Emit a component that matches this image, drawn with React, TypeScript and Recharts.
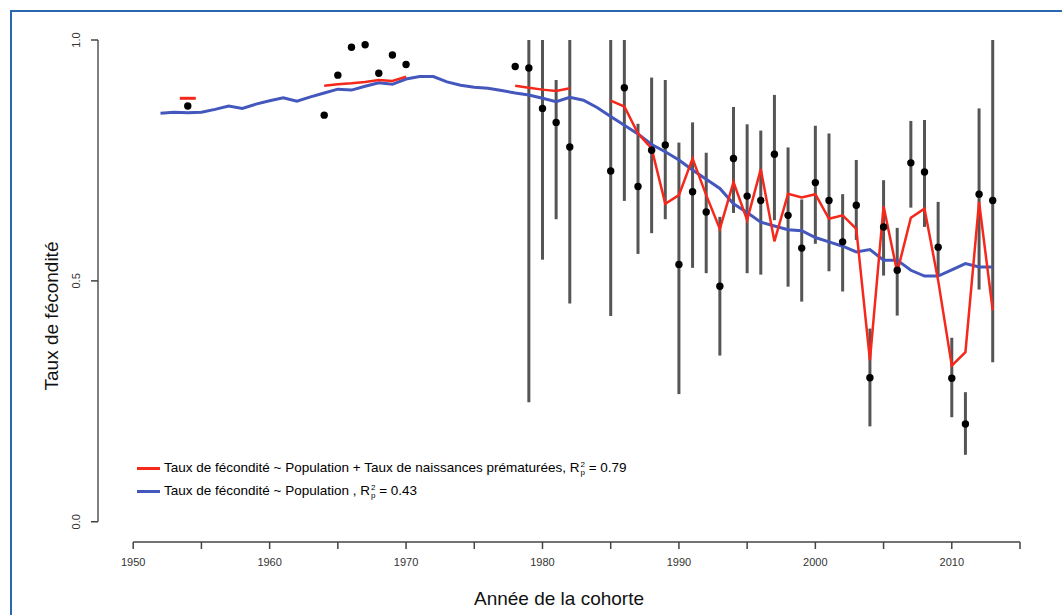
import { ComposedChart, Line, Scatter, ErrorBar, XAxis, YAxis, ReferenceLine } from 'recharts';

// cohort years for the two fitted curves
const years = [
  1952, 1953, 1954, 1955, 1956, 1957, 1958, 1959, 1960, 1961, 1962, 1963, 1964, 1965, 1966, 1967,
  1968, 1969, 1970, 1971, 1972, 1973, 1974, 1975, 1976, 1977, 1978, 1979, 1980, 1981, 1982, 1983,
  1984, 1985, 1986, 1987, 1988, 1989, 1990, 1991, 1992, 1993, 1994, 1995, 1996, 1997, 1998, 1999,
  2000, 2001, 2002, 2003, 2004, 2005, 2006, 2007, 2008, 2009, 2010, 2011, 2012, 2013,
];

// Taux de fécondité ~ Population
const popFit = [
  0.848, 0.85, 0.849, 0.85, 0.856, 0.863, 0.858, 0.867, 0.874, 0.88, 0.873, 0.882, 0.89, 0.898, 0.896, 0.904,
  0.911, 0.908, 0.919, 0.924, 0.924, 0.913, 0.906, 0.902, 0.9, 0.895, 0.89, 0.886, 0.879, 0.872, 0.881, 0.875,
  0.86, 0.841, 0.823, 0.805, 0.783, 0.768, 0.751, 0.73, 0.711, 0.692, 0.66, 0.642, 0.622, 0.614, 0.606, 0.604,
  0.59, 0.581, 0.572, 0.56, 0.565, 0.543, 0.543, 0.522, 0.51, 0.51, 0.523, 0.536, 0.529, 0.529,
];

// Taux de fécondité ~ Population + Taux de naissances prématurées (gaps = null)
const pretermFit = [
  null, null, 0.879, null, null, null, null, null, null, null, null, null, 0.905, 0.908, 0.91, 0.913,
  0.917, 0.915, 0.924, null, null, null, null, null, null, null, 0.905, 0.901, 0.897, 0.894, 0.9, null,
  null, 0.874, 0.862, 0.806, 0.775, 0.66, 0.678, 0.754, 0.678, 0.608, 0.705, 0.626, 0.732, 0.582, 0.681, 0.673,
  0.68, 0.629, 0.636, 0.608, 0.335, 0.655, 0.518, 0.631, 0.65, 0.501, 0.324, 0.352, 0.664, 0.439,
];

// observed rates with interval bounds (null = no interval drawn)
const obsYears = [
  1954, 1964, 1965, 1966, 1967, 1968, 1969, 1970, 1978, 1979, 1980, 1981, 1982, 1985, 1986, 1987,
  1988, 1989, 1990, 1991, 1992, 1993, 1994, 1995, 1996, 1997, 1998, 1999, 2000, 2001, 2002, 2003,
  2004, 2005, 2006, 2007, 2008, 2009, 2010, 2011, 2012, 2013,
];
const obsRate = [
  0.863, 0.844, 0.927, 0.985, 0.99, 0.931, 0.969, 0.949, 0.945, 0.942, 0.858, 0.829, 0.778, 0.728, 0.901, 0.696,
  0.771, 0.782, 0.534, 0.685, 0.643, 0.489, 0.754, 0.676, 0.667, 0.763, 0.636, 0.568, 0.704, 0.667, 0.581, 0.657,
  0.299, 0.612, 0.522, 0.745, 0.726, 0.57, 0.298, 0.203, 0.68, 0.667,
];
const obsLow = [
  null, null, null, null, null, null, null, null, null, 0.248, 0.544, 0.628, 0.453, 0.427, 0.666, 0.556,
  0.599, 0.628, 0.265, 0.527, 0.516, 0.345, 0.641, 0.516, 0.513, 0.626, 0.488, 0.457, 0.577, 0.52, 0.478, 0.585,
  0.198, 0.511, 0.428, 0.652, 0.612, 0.508, 0.217, 0.139, 0.482, 0.331,
];
const obsHigh = [
  null, null, null, null, null, null, null, null, null, 1.0, 1.0, 0.917, 1.0, 1.0, 1.0, 0.826,
  0.922, 0.917, 0.787, 0.829, 0.766, 0.633, 0.861, 0.825, 0.812, 0.886, 0.777, 0.669, 0.822, 0.806, 0.68, 0.751,
  0.401, 0.709, 0.61, 0.832, 0.834, 0.664, 0.382, 0.269, 0.858, 1.0,
];

const xTicks = [1950, 1955, 1960, 1965, 1970, 1975, 1980, 1985, 1990, 1995, 2000, 2005, 2010, 2015];
const yTicks = [0, 0.5, 1];

const X_MIN = 1947.42;
const Y_MIN = -0.042;
const RED = '#f5281c';
const BLUE = '#4457bd';
const FRAME = '#2a67b0';
const FONT = '"Liberation Sans", Arial, Helvetica, sans-serif';

const popData = years.map((x, i) => ({ x, y: popFit[i] }));
const pretermData = years.map((x, i) => ({ x, y: pretermFit[i] }));
// single fitted values with no neighbours are drawn as short dashes
const pretermIsolated = pretermData.filter(
  (d, i) => d.y != null && pretermFit[i - 1] == null && pretermFit[i + 1] == null
);
const obsData = obsYears.map((x, i) => ({
  x,
  y: obsRate[i],
  err: obsLow[i] == null ? [0, 0] : [obsRate[i] - (obsLow[i] as number), (obsHigh[i] as number) - obsRate[i]],
}));

const legendRows = [
  { color: RED, text: 'Taux de fécondité ~ Population + Taux de naissances prématurées, ', r: ' = 0.79' },
  { color: BLUE, text: 'Taux de fécondité ~ Population , ', r: ' = 0.43' },
];

const RSub = () => (
  <span>
    R
    <span style={{ display: 'inline-flex', flexDirection: 'column', fontSize: 8, lineHeight: '8px', verticalAlign: 'middle', marginLeft: 1 }}>
      <span>2</span>
      <span>p</span>
    </span>
  </span>
);

const YTick = (props: any) => {
  const { x, y, payload } = props;
  const bx = x - 9;
  return (
    <text x={bx} y={y} transform={`rotate(-90 ${bx} ${y})`} textAnchor="middle" fill="#333" fontSize={11} fontFamily={FONT}>
      {payload.value.toFixed(1)}
    </text>
  );
};

const Dot = (props: any) => <circle cx={props.cx} cy={props.cy} r={3.7} fill="#000" />;

const Dash = (props: any) => {
  const { cx, cy } = props;
  return <line x1={cx - 8} x2={cx + 8} y1={cy} y2={cy} stroke={RED} strokeWidth={3} />;
};

export default function App() {
  return (
    <div style={{ position: 'absolute', left: 0, top: 0, width: 1062, height: 615, background: '#fff', overflow: 'hidden' }}>
      <div style={{ position: 'absolute', left: 10, top: 10, width: 1052, height: 2, background: FRAME }} />
      <div style={{ position: 'absolute', left: 10, top: 10, width: 2, height: 605, background: FRAME }} />
      <ComposedChart width={1062} height={615} margin={{ top: 40, right: 42, bottom: 0, left: 58 }}>
        <XAxis
          type="number"
          dataKey="x"
          domain={[X_MIN, 2015]}
          allowDataOverflow
          ticks={xTicks}
          interval={0}
          tickFormatter={(v: number) => (v % 10 === 0 ? String(v) : '')}
          axisLine={false}
          tickLine={{ stroke: '#444', strokeWidth: 1.5 }}
          tickSize={7}
          tickMargin={9}
          tick={{ fill: '#333', fontSize: 11, fontFamily: FONT }}
          height={73}
          label={{ value: 'Année de la cohorte', position: 'insideBottom', offset: 10, fill: '#111', fontSize: 19, fontFamily: FONT }}
        />
        <YAxis
          type="number"
          dataKey="y"
          domain={[Y_MIN, 1]}
          allowDataOverflow
          ticks={yTicks}
          interval={0}
          axisLine={false}
          tickLine={{ stroke: '#444', strokeWidth: 1.5 }}
          tickSize={7}
          tick={<YTick />}
          width={40}
          label={{
            content: () => (
              <text x={58} y={316} transform="rotate(-90 58 316)" textAnchor="middle" fill="#111" fontSize={19} fontFamily={FONT}>
                Taux de fécondité
              </text>
            ),
          }}
        />
        <ReferenceLine segment={[{ x: 1950, y: Y_MIN }, { x: 2015, y: Y_MIN }]} stroke="#444" strokeWidth={1.5} ifOverflow="visible" />
        <ReferenceLine segment={[{ x: X_MIN, y: 0 }, { x: X_MIN, y: 1 }]} stroke="#555" strokeWidth={1.5} ifOverflow="visible" />
        <Scatter data={obsData} shape={<Dot />} isAnimationActive={false}>
          <ErrorBar dataKey="err" direction="y" width={0} stroke="#555" strokeWidth={3} />
        </Scatter>
        <Line data={popData} dataKey="y" stroke={BLUE} strokeWidth={3} dot={false} isAnimationActive={false} type="linear" />
        <Line data={pretermData} dataKey="y" stroke={RED} strokeWidth={2.5} dot={false} isAnimationActive={false} type="linear" connectNulls={false} />
        <Scatter data={pretermIsolated} shape={<Dash />} isAnimationActive={false} />
      </ComposedChart>
      <div style={{ position: 'absolute', left: 137, top: 457, fontFamily: FONT, fontSize: 13.5, color: '#000' }}>
        {legendRows.map((row) => (
          <div key={row.r} style={{ display: 'flex', alignItems: 'center', height: 23 }}>
            <span style={{ display: 'inline-block', width: 23, height: 3, background: row.color, marginRight: 4 }} />
            <span>
              {row.text}
              <RSub />
              {row.r}
            </span>
          </div>
        ))}
      </div>
    </div>
  );
}
